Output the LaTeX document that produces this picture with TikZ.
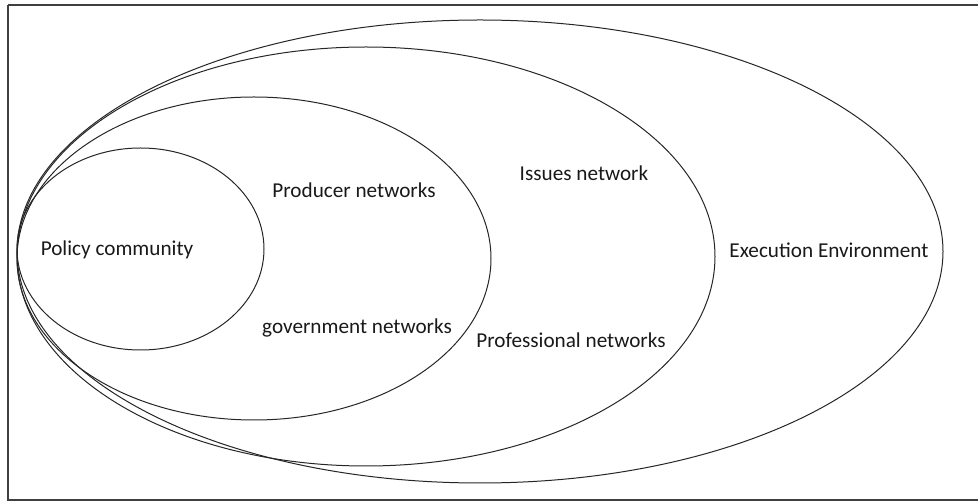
\documentclass[tikz,border=0pt]{standalone}
\usepackage{fontspec}
\setmainfont{Carlito}
\begin{document}
\begin{tikzpicture}[x=1pt,y=-1pt,
  ring/.style={draw=black!85,line width=1pt},
  lbl/.style={font=\fontsize{21.2}{24}\selectfont,text=black!90,inner sep=0pt}]
\useasboundingbox (0,0) rectangle (978,502);
% frame
\draw[black!75,line width=1.4pt] (8,5) -- (985,5);
\draw[black!75,line width=1.4pt] (8,5) -- (8,500) -- (985,500);
% nested network rings
\draw[ring] (480,251.5) ellipse [x radius=463,y radius=231.5];
\draw[ring] (366,256.5) ellipse [x radius=349,y radius=209.5];
\draw[ring] (254,258.5) ellipse [x radius=237,y radius=161.5];
\draw[ring] (140.5,249) ellipse [x radius=123.5,y radius=101];
% labels
\node[lbl] (pc) at (117,250) {Policy community};
\node[lbl] (pn) at (354,190) {Producer networks};
\node[lbl] (gn) at (357,328) {government networks};
\node[lbl] (in) at (584,173) {Issues network};
\node[lbl] (prn) at (571,340) {Professional networks};
\node[lbl] (ee) at (829,250) {Execution Environment};
\end{tikzpicture}
\end{document}
